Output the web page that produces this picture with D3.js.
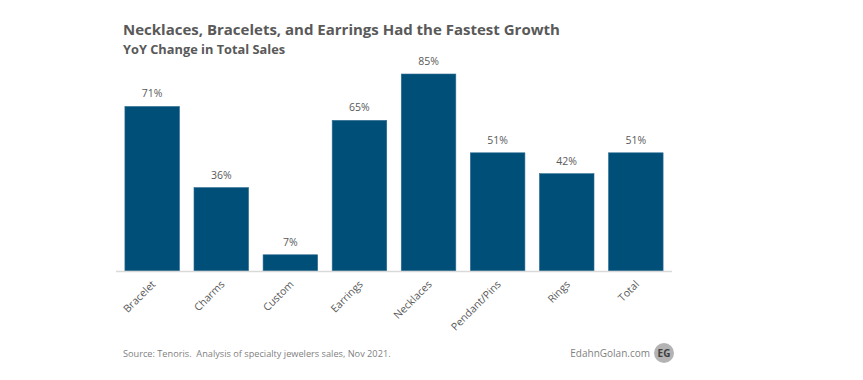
<!DOCTYPE html>
<html><head><meta charset="utf-8">
<script src="https://cdn.jsdelivr.net/npm/d3@7"></script>
<style>body{margin:0;background:#fff}svg{display:block}</style>
</head><body>
<svg id="chart" width="863" height="380"></svg>
<script>
const categories = ["Bracelet","Charms","Custom","Earrings","Necklaces","Pendant/Pins","Rings","Total"];
const values = [71,36,7,65,85,51,42,51];
const title = "Necklaces, Bracelets, and Earrings Had the Fastest Growth";
const subtitle = "YoY Change in Total Sales";
const source = "Source: Tenoris.  Analysis of specialty jewelers sales, Nov 2021.";
const brand = "EdahnGolan.com";

const svg = d3.select("#chart");
const font = "'Open Sans', sans-serif";
const x = d3.scaleBand().domain(categories).range([118,670]).paddingInner(0.21).paddingOuter(0.1);
const y = d3.scaleLinear().domain([0,85]).range([271,74]);

svg.append("text").attr("x",123).attr("y",35).attr("font-family",font).attr("font-weight",700)
  .attr("font-size",15).attr("fill","#595959").text(title);
svg.append("text").attr("x",123).attr("y",54).attr("font-family",font).attr("font-weight",700)
  .attr("font-size",12.8).attr("fill","#595959").text(subtitle);

svg.append("g").selectAll("rect").data(values).join("rect")
  .attr("x",(d,i)=>x(categories[i])).attr("width",x.bandwidth())
  .attr("y",d=>y(d)).attr("height",d=>y(0)-y(d))
  .attr("fill","#004f79").attr("stroke","#2f6f94").attr("stroke-width",0.6);

svg.append("g").selectAll("text").data(values).join("text")
  .attr("x",(d,i)=>x(categories[i])+x.bandwidth()/2).attr("y",d=>y(d)-9)
  .attr("text-anchor","middle").attr("font-family",font).attr("font-size",10.5)
  .attr("fill","#595959").text(d=>d+"%");

const ax = svg.append("g").attr("transform",`translate(0,${y(0)})`)
  .call(d3.axisBottom(x).tickSize(0).tickPadding(0));
ax.select(".domain").attr("stroke","#d9d9d9").attr("stroke-width",1.5).attr("d","M116,0.5H672");
ax.selectAll("text").attr("font-family",font).attr("font-size",10.5).attr("fill","#595959")
  .attr("text-anchor","end").attr("dy",0).attr("y",0)
  .attr("transform","translate(4,14) rotate(-45)");

svg.append("text").attr("x",123).attr("y",357).attr("font-family",font).style("white-space","pre")
  .attr("font-size",9.2).attr("fill","#7f7f7f").text(source);
svg.append("text").attr("x",650).attr("y",357).attr("text-anchor","end").attr("font-family",font)
  .attr("font-size",10).attr("fill","#7f7f7f").text(brand);
svg.append("circle").attr("cx",664).attr("cy",353).attr("r",10).attr("fill","#b3b3b3");
svg.append("text").attr("x",664).attr("y",357).attr("text-anchor","middle").attr("font-family",font)
  .attr("font-weight",700).attr("font-size",10).attr("fill","#404040").text("EG");
</script>
</body></html>
